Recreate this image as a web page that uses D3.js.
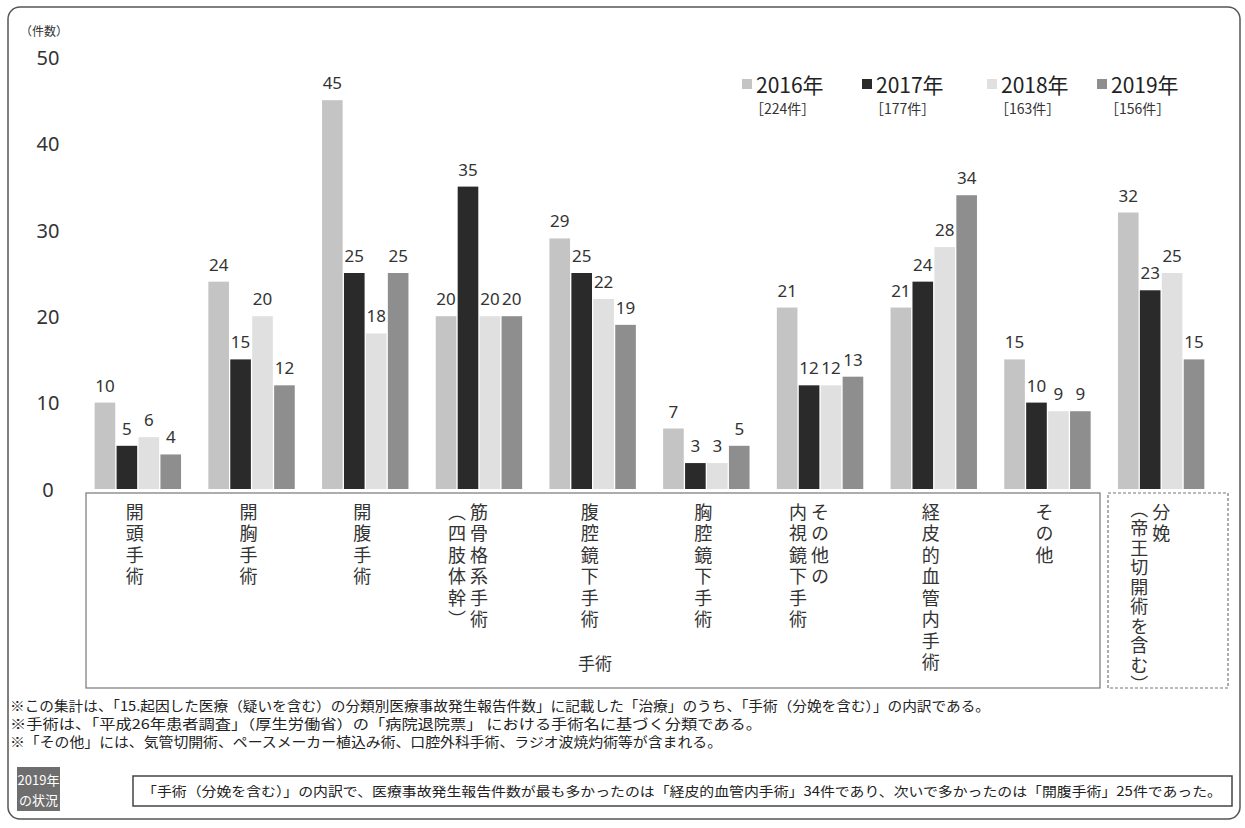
<!DOCTYPE html>
<html><head><meta charset="utf-8">
<script src="https://cdn.jsdelivr.net/npm/d3@7"></script>
<style>
html,body{margin:0;padding:0;background:#fff;}
svg{display:block;font-family:"Noto Sans CJK JP","Noto Sans",sans-serif;}
</style></head>
<body><svg id="c" width="1245" height="828"></svg>
<script>
const categories = [
  ["開頭手術"],
  ["開胸手術"],
  ["開腹手術"],
  ["筋骨格系手術","（四肢体幹）"],
  ["腹腔鏡下手術"],
  ["胸腔鏡下手術"],
  ["その他の","内視鏡下手術"],
  ["経皮的血管内手術"],
  ["その他"],
  ["分娩","（帝王切開術を含む）"]
];
const years = ["2016年","2017年","2018年","2019年"];
const totals = ["［224件］","［177件］","［163件］","［156件］"];
const v2016 = [10,24,45,20,29,7,21,21,15,32];
const v2017 = [5,15,25,35,25,3,12,24,10,23];
const v2018 = [6,20,18,20,22,3,12,28,9,25];
const v2019 = [4,12,25,20,19,5,13,34,9,15];
const series = [v2016,v2017,v2018,v2019];
const yTicks = [0,10,20,30,40,50];
const notes = [
  "※この集計は、「15.起因した医療（疑いを含む）の分類別医療事故発生報告件数」に記載した「治療」のうち、「手術（分娩を含む）」の内訳である。",
  "※手術は、「平成26年患者調査」（厚生労働省）の「病院退院票」 における手術名に基づく分類である。",
  "※「その他」には、気管切開術、ペースメーカー植込み術、口腔外科手術、ラジオ波焼灼術等が含まれる。"
];
const summary = "「手術（分娩を含む）」の内訳で、医療事故発生報告件数が最も多かったのは「経皮的血管内手術」34件であり、次いで多かったのは「開腹手術」25件であった。";
const colors = ["#c4c4c4","#2a2a2a","#e0e0e0","#8e8e8e"];

const svg = d3.select("#c");
// outer frame
svg.append("rect").attr("x",8).attr("y",7).attr("width",1232).attr("height",812)
  .attr("rx",12).attr("fill","none").attr("stroke","#555").attr("stroke-width",1.5);

const x0 = d3.scaleBand().domain(d3.range(categories.length)).range([81,1218]).paddingInner(0.24).paddingOuter(0.12);
const x1 = d3.scaleBand().domain(d3.range(4)).range([0,x0.bandwidth()]).paddingInner(0.06);
const y = d3.scaleLinear().domain([0,50]).range([489,57]);

// y axis
const ax = svg.append("g").attr("transform","translate(60,0)")
  .call(d3.axisLeft(y).tickValues(yTicks).tickSize(0).tickPadding(0));
ax.select(".domain").remove();
ax.selectAll("text").attr("x",-12).attr("text-anchor","middle").attr("dy","0.36em")
  .attr("font-size",20).attr("fill","#333").attr("font-family","'Noto Sans',sans-serif");
svg.append("text").attr("x",20).attr("y",36).attr("font-size",12).attr("fill","#333").text("（件数）");

// bars
const g = svg.append("g");
categories.forEach((c,i)=>{
  series.forEach((s,j)=>{
    const xx = x0(i)+x1(j);
    g.append("rect").attr("x",xx).attr("y",y(s[i])).attr("width",x1.bandwidth())
      .attr("height",y(0)-y(s[i])).attr("fill",colors[j]);
    g.append("text").attr("x",xx+x1.bandwidth()/2).attr("y",y(s[i])-11)
      .attr("text-anchor","middle").attr("font-size",17).attr("fill","#333")
      .attr("font-family","'Noto Sans',sans-serif").text(s[i]);
  });
});

// legend
const legX = [742,862,987,1097];
years.forEach((yr,j)=>{
  svg.append("rect").attr("x",legX[j]).attr("y",79).attr("width",10).attr("height",10).attr("fill",colors[j]);
  svg.append("text").attr("x",legX[j]+14).attr("y",93).attr("font-size",21).attr("fill","#222").text(yr);
  svg.append("text").attr("x",legX[j]+8).attr("y",114).attr("font-size",14).attr("fill","#333").text(totals[j]);
});

// category label boxes
svg.append("rect").attr("x",86).attr("y",493).attr("width",1014).attr("height",195)
  .attr("fill","none").attr("stroke","#777").attr("stroke-width",1.2);
svg.append("rect").attr("x",1108).attr("y",493).attr("width",120).attr("height",195)
  .attr("fill","none").attr("stroke","#777").attr("stroke-width",1.2).attr("stroke-dasharray","3,2");
svg.append("text").attr("x",595).attr("y",670).attr("text-anchor","middle").attr("font-size",17).attr("fill","#333").text("手術");

categories.forEach((c,i)=>{
  const cx = x0(i)+x0.bandwidth()/2;
  c.forEach((line,k)=>{
    svg.append("text").attr("x", c.length===1 ? cx-3 : cx-22*k)
      .attr("y",line.length>8 ? 500 : 503)
      .style("writing-mode","vertical-rl")
      .attr("font-size",18).attr("letter-spacing",line.length>8 ? 1.5 : 3.5).attr("fill","#333")
      .text(line);
  });
});

// notes
const noteLen = [980, 752, 712];
notes.forEach((n,k)=>{
  svg.append("text").attr("x",10).attr("y",711+k*18).attr("font-size",13.5).attr("fill","#222")
    .attr("textLength",noteLen[k]).attr("lengthAdjust","spacingAndGlyphs").text(n);
});

// bottom summary
svg.append("rect").attr("x",17).attr("y",767).attr("width",43).attr("height",44).attr("fill","#6e6e6e");
svg.append("text").attr("x",38.5).attr("y",785).attr("text-anchor","middle").attr("font-size",13).attr("fill","#fff").text("2019年");
svg.append("text").attr("x",38.5).attr("y",805).attr("text-anchor","middle").attr("font-size",13).attr("fill","#fff").text("の状況");
svg.append("rect").attr("x",133).attr("y",776).attr("width",1099).attr("height",30)
  .attr("fill","none").attr("stroke","#444").attr("stroke-width",1.5);
svg.append("text").attr("x",142).attr("y",796).attr("font-size",13).attr("fill","#222")
  .attr("textLength",1080).attr("lengthAdjust","spacingAndGlyphs").text(summary);
</script></body></html>
